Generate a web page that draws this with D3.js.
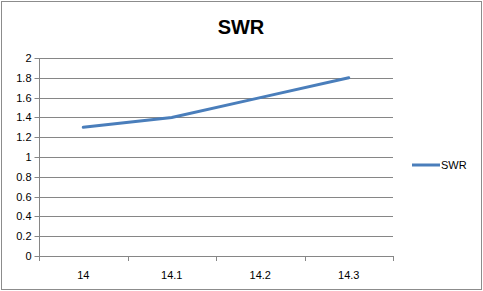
<!DOCTYPE html>
<html><head><meta charset="utf-8">
<script src="https://cdn.jsdelivr.net/npm/d3@7"></script>
<style>body{margin:0;background:#fff}svg{display:block}</style>
</head><body>
<script>
const categories = ["14", "14.1", "14.2", "14.3"];
const swrValues = [1.3, 1.4, 1.6, 1.8];
const yTicks = [0, 0.2, 0.4, 0.6, 0.8, 1, 1.2, 1.4, 1.6, 1.8, 2];
const seriesName = "SWR";
const titleText = "SWR";

const W = 483, H = 291;
const svg = d3.select("body").append("svg").attr("width", W).attr("height", H);
svg.append("rect").attr("x", 1.5).attr("y", 1.5).attr("width", W - 3).attr("height", H - 3)
  .attr("fill", "#fff").attr("stroke", "#8c8c8c").attr("stroke-width", 1);

const L = 39, R = 393, T = 58, B = 256;
const x = d3.scaleBand().domain(categories).range([L, R]);
const y = d3.scaleLinear().domain([0, 2]).range([B, T]);
const font = "'Liberation Sans', Arial, sans-serif";

svg.append("text").attr("x", 241).attr("y", 34).attr("text-anchor", "middle")
  .attr("font-family", font).attr("font-weight", "bold").attr("font-size", 20).text(titleText);

// gridlines
svg.append("g").selectAll("line").data(yTicks.filter(d => d > 0)).join("line")
  .attr("x1", L).attr("x2", R).attr("y1", d => Math.round(y(d)) + 0.5).attr("y2", d => Math.round(y(d)) + 0.5)
  .attr("stroke", "#868686").attr("stroke-width", 1);

const yAxis = svg.append("g").attr("transform", `translate(${L + 0.5},0)`)
  .call(d3.axisLeft(y).tickValues(yTicks).tickSize(5).tickPadding(3).tickFormat(d3.format("")));
yAxis.selectAll("text").attr("font-family", font).attr("font-size", 11).attr("fill", "#000");
yAxis.selectAll("line,path").attr("stroke", "#868686");
yAxis.select("path").attr("d", `M0,${B + 0.5}V${T}`);
yAxis.selectAll(".tick").attr("transform", d => `translate(0,${Math.round(y(d)) + 0.5})`);

const xAxis = svg.append("g").attr("transform", `translate(0,${B + 0.5})`)
  .call(d3.axisBottom(x).tickSize(0).tickPadding(15));
xAxis.select("path").attr("stroke", "#868686").attr("d", `M${L},0H${R}`);
xAxis.selectAll("text").attr("font-family", font).attr("font-size", 11).attr("fill", "#000");
// category boundary ticks
svg.append("g").selectAll("line").data(d3.range(categories.length + 1)).join("line")
  .attr("x1", i => Math.round(L + i * x.step()) + 0.5).attr("x2", i => Math.round(L + i * x.step()) + 0.5)
  .attr("y1", B).attr("y2", B + 5).attr("stroke", "#868686");

const line = d3.line().x((d, i) => x(categories[i]) + x.bandwidth() / 2).y(d => y(d));
svg.append("path").datum(swrValues).attr("d", line).attr("fill", "none")
  .attr("stroke", "#4A7EBB").attr("stroke-width", 3).attr("stroke-linecap", "round");

// legend
svg.append("line").attr("x1", 412).attr("x2", 440).attr("y1", 165).attr("y2", 165)
  .attr("stroke", "#4A7EBB").attr("stroke-width", 3);
svg.append("text").attr("x", 441).attr("y", 169).attr("font-family", font).attr("font-size", 11)
  .text(seriesName);
</script>
</body></html>
